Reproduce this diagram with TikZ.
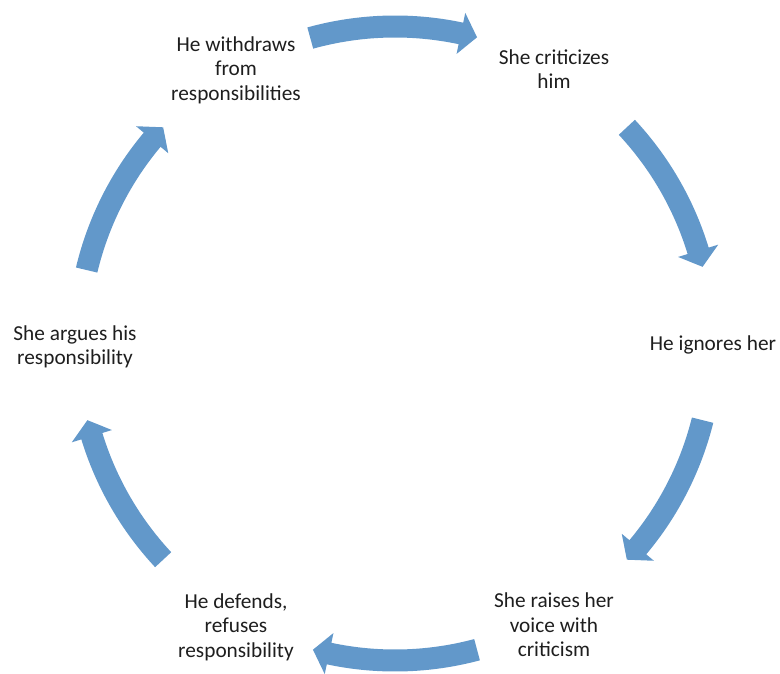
\documentclass[tikz,border=0pt]{standalone}
\usepackage{fontspec}
\setmainfont{Carlito}
\definecolor{arrowblue}{RGB}{98,152,202}
\definecolor{txt}{RGB}{30,30,30}
\newcommand\cycarrow[2]{%
  \fill[arrowblue] (#1:328pt) arc[start angle=#1, end angle={#2+3}, radius=328pt]
    -- ({#2+3}:338pt) -- (#2:317pt) -- ({#2+3}:296pt) -- ({#2+3}:306pt)
    arc[start angle={#2+3}, end angle=#1, radius=306pt] -- cycle;}
\begin{document}
\begin{tikzpicture}[x=1pt,y=1pt,
  lbl/.style={font=\fontsize{21.3}{24.5}\selectfont, text=txt, align=center, inner sep=0pt}]
\useasboundingbox (0,0) rectangle (780,673);
\coordinate (c) at (395,329.5);
\begin{scope}[shift={(c)}]
  \cycarrow{105.5}{75}
  \cycarrow{43}{14}
  \cycarrow{-14}{-43}
  \cycarrow{-75}{-105}
  \cycarrow{-137}{-166}
  \cycarrow{166.6}{137}
\end{scope}
\node[lbl] (n1) at (236,603) {He withdraws\\from\\responsibilities};
\node[lbl] (n2) at (554,604) {She criticizes\\him};
\node[lbl] (n3) at (713,328) {He ignores her};
\node[lbl] (n4) at (554,48) {She raises her\\voice with\\criticism};
\node[lbl] (n5) at (236,46) {He defends,\\refuses\\responsibility};
\node[lbl] (n6) at (75,326) {She argues his\\responsibility};
\end{tikzpicture}
\end{document}
